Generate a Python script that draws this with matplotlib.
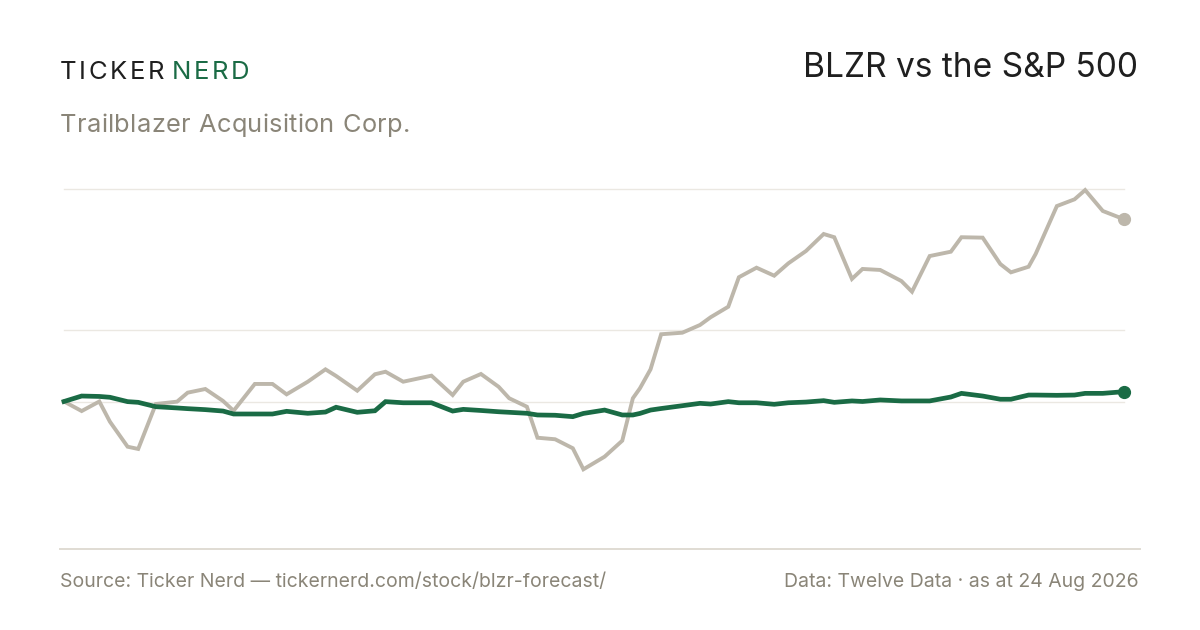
import matplotlib
matplotlib.use("Agg")
import matplotlib.pyplot as plt
from matplotlib.lines import Line2D

# ---- data (trading-day index, % change from start) ----
days = [0, 5, 10, 13, 18, 21, 26, 32, 35, 40, 45, 48, 54, 59, 63, 69, 74, 77, 83, 88,
        91, 96, 104, 110, 113, 118, 123, 126, 131, 134, 139, 144, 147, 153, 158, 161, 163,
        166, 169, 175, 180, 183, 188, 191, 196, 201, 205, 210, 215, 218, 223, 226, 231, 237,
        240, 245, 251, 254, 260, 265, 268, 273, 275, 281, 286, 289, 294, 300]

blzr = [0.0, -6.8, 0.0, -14.4, -32.2, -33.8, -1.8, -0.1, 6.3, 8.9, 0.4, -6.6, 12.5, 12.5,
        5.1, 14.1, 22.9, 18.2, 7.7, 19.4, 21.2, 14.1, 18.4, 4.6, 14.1, 19.6, 10.5, 2.3, -3.7,
        -25.8, -26.9, -33.3, -48.3, -39.3, -27.9, 2.3, 9.4, 22.9, 47.9, 49.0, 54.5, 60.0, 67.5,
        88.5, 95.3, 89.6, 98.4, 107.2, 119.3, 117.0, 87.3, 94.4, 93.7, 85.8, 78.2, 103.6, 106.7,
        117.0, 116.7, 97.9, 92.0, 96.0, 105.1, 139.2, 144.0, 150.6, 135.7, 129.8]

spx = [0.0, 3.9, 3.6, 3.0, -0.1, -0.6, -3.7, -4.6, -5.1, -5.8, -6.8, -8.9, -8.9, -8.9, -7.0,
       -8.4, -7.5, -4.1, -7.7, -6.6, -0.1, -0.9, -0.9, -6.8, -5.6, -6.4, -7.3, -7.7, -8.4, -9.6,
       -9.8, -10.8, -8.5, -6.1, -9.6, -9.6, -8.5, -6.1, -5.0, -3.0, -1.3, -1.8, -0.1, -0.9, -0.9,
       -2.0, -0.9, -0.4, 0.6, -0.6, 0.4, 0.0, 1.1, 0.4, 0.4, 0.4, 3.2, 5.8, 3.9, 1.6, 1.6, 4.6,
       4.6, 4.4, 4.6, 5.8, 5.8, 7.0]

grid_values = [51.1, 151.1]
baseline_value = 0.0

title = "BLZR vs the S&P 500"
subtitle = "Trailblazer Acquisition Corp."
source_text = "Source: Ticker Nerd \u2014 tickernerd.com/stock/blzr-forecast/"
data_text = "Data: Twelve Data \u00b7 as at 24 Aug 2026"

# ---- style ----
GREEN = "#1a6b45"
GRAY_LINE = "#bdb7ab"
MUTED = "#8a8578"
DARK = "#1f1f1f"
GRID = "#ebe8e2"
FONT = ["Inter", "DejaVu Sans"]

W, H = 1200, 630
fig = plt.figure(figsize=(W / 100, H / 100), dpi=100)
fig.patch.set_facecolor("white")

px_per_unit = 1.404
y0_px = 401.5
ax_top_px, ax_bot_px = 189.3, 549.0
ax_left_px, ax_right_px = 64, 1124
ax = fig.add_axes([ax_left_px / W, 1 - ax_bot_px / H,
                   (ax_right_px - ax_left_px) / W, (ax_bot_px - ax_top_px) / H])
ax.set_xlim(days[0], days[-1])
ax.set_ylim((y0_px - ax_bot_px) / px_per_unit, (y0_px - ax_top_px) / px_per_unit)
ax.axis("off")

for g in grid_values + [baseline_value]:
    ax.axhline(g, color=GRID, lw=1.0, zorder=1, clip_on=False)

ax.plot(days, blzr, color=GRAY_LINE, lw=2.8, zorder=3, solid_joinstyle="miter",
        clip_on=False)
ax.plot(days, spx, color=GREEN, lw=3.4, zorder=4, solid_joinstyle="miter",
        clip_on=False)
ax.plot([days[-1]], [blzr[-1]], "o", color=GRAY_LINE, ms=8.5, zorder=5, clip_on=False)
ax.plot([days[-1]], [spx[-1]], "o", color=GREEN, ms=8.5, zorder=5, clip_on=False)

# bottom rule
fig.add_artist(Line2D([60 / W, 1140 / W], [1 - 549 / H, 1 - 549 / H],
                      color="#e0dcd3", lw=1.4))

# ---- text ----
renderer = fig.canvas.get_renderer()


def tracked(x_px, y_px, s, size, color, tracking_px, space_px=6.0):
    x = x_px
    for ch in s:
        if ch == " ":
            x += space_px
            continue
        t = fig.text(x / W, 1 - y_px / H, ch, fontsize=size, color=color,
                     family=FONT, va="baseline", ha="left")
        bb = t.get_window_extent(renderer=renderer)
        x += bb.width + tracking_px
    return x


x_end = tracked(60, 79.3, "TICKER", 18.5, DARK, 2.6)
tracked(x_end + 5, 79.3, "NERD", 18.5, GREEN, 2.6)

fig.text(1138 / W, 1 - 77.3 / H, title, fontsize=24.1, color=DARK, family=FONT,
         ha="right", va="baseline")
# subtitle with slightly wider word spacing
tracked(60, 131.7, subtitle, 18.3, MUTED, 0.3, space_px=8.0)
fig.text(60 / W, 1 - 587 / H, source_text, fontsize=14.0, color=MUTED, family=FONT,
         ha="left", va="baseline")
fig.text(1139 / W, 1 - 587 / H, data_text, fontsize=14.0, color=MUTED, family=FONT,
         ha="right", va="baseline")

fig.savefig("out.png", dpi=100, facecolor="white")
